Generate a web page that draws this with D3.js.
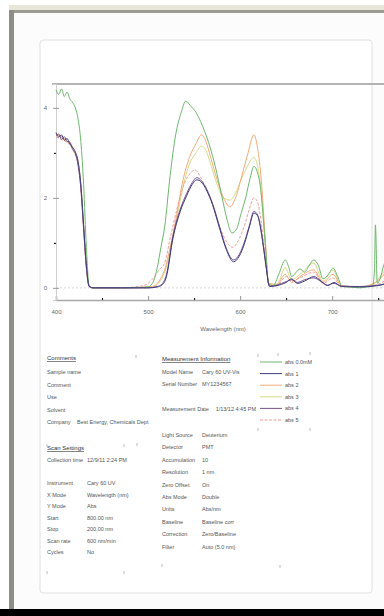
<!DOCTYPE html>
<html>
<head>
<meta charset="utf-8">
<script src="https://cdn.jsdelivr.net/npm/d3@7/dist/d3.min.js"></script>
<style>
    html, body { margin: 0; padding: 0; background: #fff; overflow: hidden; }
    svg { display: block; font-family: "Liberation Sans", Arial, sans-serif; }
</style>
</head>
<body>
<div id="chart"></div>
<script>
// spectra, [wavelength nm, absorbance]
const absCtrl = [[400,4.40],[403,4.30],[406,4.42],[409,4.25],[412,4.35],[415,4.20],[418,4.12],[421,4.00],[424,3.75],[427,3.25],[430,2.30],[433,0.90],[436,0.05],[440,0.00],[470,0.00],[500,0.02],[506,0.15],[510,0.45],[514,0.90],[518,1.35],[524,2.50],[530,3.40],[536,3.90],[541,4.15],[546,4.05],[552,3.90],[557,3.70],[562,3.45],[567,3.15],[573,2.70],[580,2.05],[586,1.50],[591,1.22],[596,1.30],[601,1.65],[606,2.00],[611,2.45],[615,2.70],[619,2.55],[622,2.25],[625,1.60],[628,0.80],[631,0.08],[636,0.05],[642,0.30],[649,0.62],[653,0.45],[656,0.25],[661,0.35],[665,0.42],[670,0.35],[675,0.50],[680,0.62],[685,0.50],[690,0.20],[696,0.30],[701,0.44],[706,0.25],[711,0.03],[720,0.02],[730,0.00],[740,0.03],[744,0.05],[746,0.40],[747,1.40],[749,0.10],[752,0.20],[756,0.50],[760,0.70],[765,0.90]];
const abs1 = [[400,3.45],[403,3.35],[406,3.40],[409,3.28],[412,3.32],[415,3.20],[418,3.12],[421,3.02],[424,2.80],[427,2.30],[430,1.40],[433,0.50],[436,0.04],[440,0.00],[470,0.00],[500,0.00],[510,0.02],[515,0.06],[520,0.25],[527,1.10],[535,1.70],[542,2.05],[548,2.30],[553,2.40],[558,2.35],[564,2.15],[570,1.85],[578,1.30],[585,0.85],[593,0.58],[599,0.70],[605,1.00],[610,1.35],[615,1.66],[619,1.60],[622,1.35],[625,0.95],[628,0.50],[632,0.03],[640,0.05],[650,0.12],[656,0.20],[662,0.10],[670,0.15],[680,0.25],[688,0.15],[695,0.05],[702,0.12],[710,0.03],[730,0.02],[750,0.05],[765,0.15]];
const abs2 = [[400,3.42],[405,3.36],[410,3.30],[415,3.22],[420,3.05],[424,2.82],[427,2.28],[430,1.38],[433,0.48],[436,0.04],[440,0.00],[480,0.00],[505,0.03],[512,0.15],[518,0.40],[524,0.90],[530,1.50],[538,2.40],[545,2.90],[552,3.20],[558,3.40],[562,3.30],[568,2.90],[575,2.40],[582,2.00],[589,1.80],[595,2.00],[602,2.50],[608,2.95],[615,3.40],[619,3.10],[623,2.40],[627,1.20],[631,0.10],[640,0.08],[649,0.30],[656,0.12],[665,0.25],[680,0.40],[690,0.12],[701,0.30],[710,0.05],[730,0.02],[745,0.10],[752,0.20],[758,0.35],[765,0.55]];
const abs3 = [[400,3.40],[405,3.38],[410,3.28],[415,3.20],[420,3.02],[424,2.78],[427,2.25],[430,1.35],[433,0.46],[436,0.03],[440,0.00],[480,0.00],[505,0.02],[512,0.12],[518,0.35],[524,0.80],[530,1.40],[538,2.25],[545,2.75],[552,3.00],[558,3.15],[563,3.05],[568,2.75],[575,2.30],[582,2.00],[589,1.95],[595,2.10],[602,2.45],[608,2.70],[615,2.90],[619,2.70],[623,2.10],[627,1.05],[631,0.08],[640,0.06],[649,0.45],[656,0.18],[665,0.30],[680,0.55],[690,0.15],[701,0.40],[710,0.04],[730,0.02],[745,0.08],[752,0.25],[758,0.40],[765,0.60]];
const abs4 = [[400,3.38],[403,3.42],[406,3.30],[409,3.36],[412,3.25],[415,3.24],[418,3.08],[421,2.98],[424,2.72],[427,2.20],[430,1.30],[433,0.45],[436,0.03],[440,0.00],[470,0.00],[500,0.00],[510,0.03],[515,0.08],[520,0.30],[527,1.15],[535,1.75],[542,2.10],[548,2.34],[553,2.45],[558,2.38],[564,2.18],[570,1.88],[578,1.34],[585,0.88],[593,0.62],[599,0.74],[605,1.04],[610,1.38],[615,1.70],[619,1.62],[622,1.38],[625,0.98],[628,0.52],[632,0.04],[640,0.06],[650,0.14],[656,0.18],[662,0.12],[670,0.18],[680,0.22],[688,0.14],[695,0.06],[702,0.10],[710,0.04],[730,0.03],[750,0.06],[765,0.12]];
const abs5 = [[400,3.36],[405,3.30],[410,3.26],[415,3.18],[420,3.00],[424,2.76],[427,2.22],[430,1.32],[433,0.44],[436,0.03],[440,0.00],[470,0.00],[495,0.05],[505,0.20],[512,0.40],[518,0.55],[524,1.10],[532,1.80],[540,2.35],[546,2.55],[551,2.62],[556,2.50],[562,2.25],[570,1.85],[578,1.35],[586,1.00],[592,0.90],[598,1.05],[605,1.40],[610,1.75],[615,2.00],[619,1.90],[622,1.60],[625,1.10],[628,0.55],[632,0.04],[640,0.05],[650,0.25],[656,0.15],[665,0.22],[680,0.35],[690,0.10],[701,0.22],[710,0.03],[730,0.02],[750,0.08],[765,0.30]];

const seriesNames = ["abs 0.0mM", "abs 1", "abs 2", "abs 3", "abs 4", "abs 5"];
const seriesData = [absCtrl, abs1, abs2, abs3, abs4, abs5];
const seriesColors = ["#6cb86c", "#3c3f7a", "#f2ab78", "#d6dc86", "#7a5290", "#ef9f92"];
const drawOrder = [3, 2, 5, 0, 4, 1];

const xTicks = [400, 500, 600, 700];
const xMinor = [450, 550, 650, 750];
const yTicks = [0, 2, 4];
const yMinor = [1, 3];

// report text
const sampleHeader = "Comments";
const sampleLabels = ["Sample name", "Comment", "Use", "Solvent", "Company"];
const sampleValues = ["", "", "", "", "Best Energy, Chemicals Dept"];
const scanHeader = "Scan Settings";
const scanLabels = ["Collection time", "", "Instrument", "X Mode", "Y Mode", "Start", "Stop", "Scan rate", "Cycles"];
const scanValues = ["12/9/11 2:24 PM", "", "Cary 60 UV", "Wavelength (nm)", "Abs", "800.00 nm", "200.00 nm", "600 nm/min", "No"];
const measHeader = "Measurement Information";
const measLabels = ["Model Name", "Serial Number", "", "Measurement Date"];
const measValues = ["Cary 60 UV-Vis", "MY1234567", "", ""];
const measDate = "1/13/12 4:45 PM";
const instLabels = ["Light Source", "Detector", "Accumulation", "Resolution", "Zero Offset", "Abs Mode", "Units", "Baseline", "Correction", "Filter"];
const instValues = ["Deuterium", "PMT", "10", "1 nm", "On", "Double", "Abs/nm", "Baseline corr", "Zero/Baseline", "Auto (5.0 nm)"];

const svgSize = { width: 384, height: 616 };
const plot = { left: 56, right: 392, top: 84, bottom: 300 };

const svg = d3.select("#chart")
              .append("svg")
              .attr("width", svgSize.width)
              .attr("height", svgSize.height);

// window frame
svg.append("rect").attr("x", 0).attr("y", 0).attr("width", 384).attr("height", 616).attr("fill", "#fff");
svg.append("rect").attr("x", 9).attr("y", 5).attr("width", 375).attr("height", 5).attr("fill", "#e8e6d8");
svg.append("rect").attr("x", 9).attr("y", 10).attr("width", 375).attr("height", 3).attr("fill", "#9c9c92");
svg.append("rect").attr("x", 9).attr("y", 10).attr("width", 5).attr("height", 600).attr("fill", "#8e8e86");
svg.append("rect").attr("x", 14).attr("y", 13).attr("width", 370).attr("height", 597).attr("fill", "#fcfcfc");
svg.append("rect")
   .attr("x", 40).attr("y", 40)
   .attr("width", 332).attr("height", 553)
   .attr("rx", 3)
   .attr("fill", "#fff")
   .attr("stroke", "#e0e0e0");
svg.append("rect").attr("x", 0).attr("y", 609).attr("width", 384).attr("height", 7).attr("fill", "#000");

const x = d3.scaleLinear()
            .domain([400, 765])
            .range([plot.left, plot.right]);

const y = d3.scaleLinear()
            .domain([-0.27, 4.53])
            .range([plot.bottom, plot.top]);

// top border of plot
svg.append("line")
   .attr("x1", 52).attr("x2", 390)
   .attr("y1", plot.top).attr("y2", plot.top)
   .attr("stroke", "#9a9a9a")
   .attr("stroke-width", 1.6);

// zero line
svg.append("line")
   .attr("x1", plot.left).attr("x2", plot.right)
   .attr("y1", y(0)).attr("y2", y(0))
   .attr("stroke", "#d8d8d8")
   .attr("stroke-dasharray", "2,2");

const xAxis = svg.append("g")
    .attr("transform", `translate(0, ${plot.bottom})`)
    .call(d3.axisBottom(x).tickValues(xTicks).tickSize(-4).tickPadding(10).tickFormat(d3.format("d")));

svg.append("g")
    .attr("transform", `translate(0, ${plot.bottom})`)
    .call(d3.axisBottom(x).tickValues(xMinor).tickSize(-2).tickFormat(""))
    .select(".domain").remove();

xAxis.select(".domain").attr("stroke", "#a8a8a8").attr("stroke-width", 1.6);
xAxis.selectAll(".tick line").attr("stroke", "#999");
xAxis.selectAll(".tick text").attr("font-size", 6).attr("fill", "#666");

const yAxis = svg.append("g")
    .attr("transform", `translate(${plot.left}, 0)`)
    .call(d3.axisLeft(y).tickValues(yTicks).tickSize(3).tickPadding(6).tickFormat(d3.format("d")));

yAxis.select(".domain").attr("stroke", "#cfcfcf");
yAxis.selectAll(".tick line").attr("x2", 3).attr("x1", -3).attr("stroke", "#999");
yAxis.selectAll(".tick text").attr("font-size", 6).attr("fill", "#666");

svg.append("g")
    .attr("transform", `translate(${plot.left}, 0)`)
    .call(d3.axisLeft(y).tickValues(yMinor).tickSize(2).tickFormat(""))
    .select(".domain").remove();

svg.append("text")
   .attr("x", (x(xTicks[1]) + x(xTicks[2])) / 2 + 29)
   .attr("y", 331)
   .attr("text-anchor", "middle")
   .attr("font-size", 6)
   .attr("fill", "#666")
   .text("Wavelength (nm)");

const line = d3.line()
               .x(d => x(d[0]))
               .y(d => y(d[1]))
               .curve(d3.curveMonotoneX);

svg.append("g")
   .selectAll("path")
   .data(drawOrder)
   .enter()
   .append("path")
   .attr("d", i => line(seriesData[i]))
   .attr("fill", "none")
   .attr("stroke", i => seriesColors[i])
   .attr("stroke-width", 1)
   .attr("stroke-dasharray", i => i === 5 ? "3,1.5" : null);

// legend
const legend = svg.append("g")
                  .selectAll(".legend-row")
                  .data(seriesNames)
                  .enter()
                  .append("g")
                  .attr("class", "legend-row")
                  .attr("transform", (d, i) => `translate(260, ${362 + i * 11.6})`);

legend.append("line")
      .attr("x1", 0).attr("x2", 22)
      .attr("stroke", (d, i) => seriesColors[i])
      .attr("stroke-width", 1)
      .attr("stroke-dasharray", (d, i) => i === 5 ? "3,1.5" : null);

legend.append("text")
      .attr("x", 25)
      .attr("y", 2)
      .attr("font-size", 5.5)
      .attr("fill", "#555")
      .text(d => d);

// report tables
function table(labels, values, x0, x1, y0, step) {
    const g = svg.append("g");
    labels.forEach((l, i) => {
        g.append("text")
         .attr("x", x0).attr("y", y0 + i * step)
         .attr("font-size", 5.5).attr("fill", "#555")
         .text(l);
        g.append("text")
         .attr("x", x1).attr("y", y0 + i * step)
         .attr("font-size", 5.5).attr("fill", "#555")
         .text(values[i]);
    });
}

function header(text, x0, y0) {
    svg.append("text")
       .attr("x", x0).attr("y", y0)
       .attr("font-size", 6).attr("fill", "#333")
       .attr("text-decoration", "underline")
       .text(text);
}

header(sampleHeader, 47, 360);
table(sampleLabels, sampleValues, 47, 77, 374, 12.5);
header(scanHeader, 47, 450);
table(scanLabels, scanValues, 47, 87, 462, 11.5);
header(measHeader, 162, 361);
table(measLabels, measValues, 162, 202, 374, 12.3);
svg.append("text")
   .attr("x", 256).attr("y", 411)
   .attr("text-anchor", "end")
   .attr("font-size", 5.5).attr("fill", "#555")
   .text(measDate);
table(instLabels, instValues, 162, 202, 437, 12.4);

// small corner marks of the report blocks
const marks = [[136, 355], [258, 354], [278, 353], [310, 352], [258, 428], [310, 428], [47, 444], [124, 444], [137, 443], [47, 571], [124, 571], [162, 564], [280, 565]];
svg.append("g")
   .selectAll("line")
   .data(marks)
   .enter()
   .append("line")
   .attr("x1", d => d[0]).attr("x2", d => d[0])
   .attr("y1", d => d[1]).attr("y2", d => d[1] + 3)
   .attr("stroke", "#aaa")
   .attr("stroke-width", 0.8);
</script>
</body>
</html>
